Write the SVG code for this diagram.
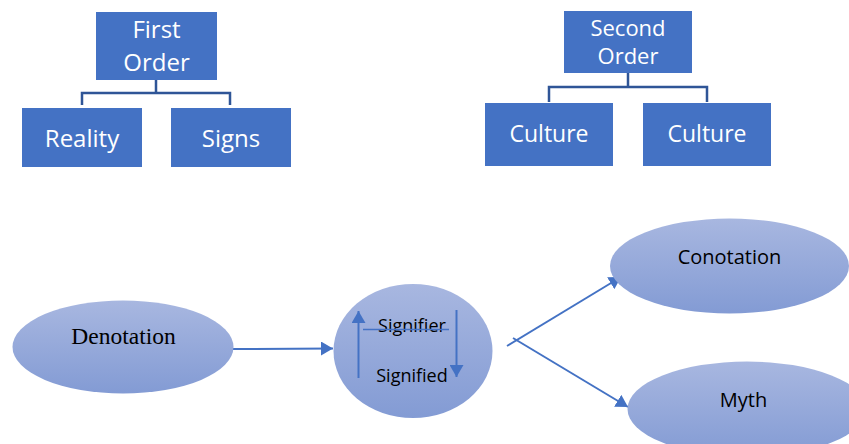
<svg xmlns="http://www.w3.org/2000/svg" width="849" height="444" viewBox="0 0 849 444">
<style>
.box{fill:#4472C4;}
.bt{font-family:"Open Sans","Liberation Sans",sans-serif;font-size:24px;fill:#ffffff;text-anchor:middle;}
.bs{font-size:22px;}
.tree{fill:none;stroke:#2F5597;stroke-width:2.5;}
.ell{fill:url(#eg);}
.et{font-family:"Open Sans","Liberation Sans",sans-serif;font-size:20px;fill:#000000;text-anchor:middle;}
.st{font-family:"Open Sans","Liberation Sans",sans-serif;font-size:18px;fill:#000000;text-anchor:middle;}
.serif{font-family:"Liberation Serif","Times New Roman",serif;font-size:23.5px;fill:#000000;text-anchor:middle;}
.arr{fill:none;stroke:#4472C4;stroke-width:2;marker-end:url(#ah);}
.ln{fill:none;stroke:#4472C4;stroke-width:1.5;}
</style>
<defs>
<linearGradient id="eg" x1="0" y1="0" x2="0" y2="1">
<stop offset="0" stop-color="#A8B7E0"/>
<stop offset="1" stop-color="#839BD4"/>
</linearGradient>
<marker id="ah" markerUnits="userSpaceOnUse" markerWidth="14" markerHeight="14" refX="12" refY="7" orient="auto">
<path d="M0,0 L12,7 L0,14 z" fill="#4472C4"/>
</marker>
</defs>
<rect width="849" height="444" fill="#ffffff"/>

<g id="connectors">
<path class="tree" d="M156,80 V93 M82,105 V93 H230 V105"/>
<path class="tree" d="M628,73 V87 M549,102 V87 H707 V102"/>
<line class="arr" x1="233" y1="349" x2="333" y2="348.5"/>
<line class="arr" x1="507" y1="346" x2="621" y2="277"/>
<line class="arr" x1="513" y1="338" x2="628" y2="407"/>
</g>

<g id="first-order">
<rect class="box" x="96" y="12" width="121" height="68"/>
<text class="bt" x="156.5" y="38">First</text>
<text class="bt" x="156.5" y="71">Order</text>
</g>
<g id="reality">
<rect class="box" x="22" y="108" width="120" height="59"/>
<text class="bt" x="82" y="147">Reality</text>
</g>
<g id="signs">
<rect class="box" x="171" y="108" width="120" height="59"/>
<text class="bt" x="231" y="147">Signs</text>
</g>

<g id="second-order">
<rect class="box" x="564" y="11" width="128" height="62"/>
<text class="bt bs" x="628" y="36">Second</text>
<text class="bt bs" x="628" y="64">Order</text>
</g>
<g id="culture1">
<rect class="box" x="485" y="103" width="128" height="63"/>
<text class="bt" x="549" y="142" style="font-size:23px">Culture</text>
</g>
<g id="culture2">
<rect class="box" x="643" y="103" width="128" height="63"/>
<text class="bt" x="707" y="142" style="font-size:23px">Culture</text>
</g>

<g id="denotation">
<ellipse class="ell" cx="123" cy="347" rx="110.5" ry="46.5"/>
<text class="serif" x="123.5" y="344">Denotation</text>
</g>

<g id="sign">
<ellipse class="ell" cx="413" cy="351" rx="79.5" ry="67"/>
<line class="arr" x1="358.5" y1="378" x2="358.5" y2="311"/>
<line class="arr" x1="456.5" y1="310" x2="456.5" y2="377"/>
<text class="st" x="412" y="332">Signifier</text>
<line class="ln" x1="363" y1="329.5" x2="449" y2="329.5"/>
<text class="st" x="412" y="381.5">Signified</text>
</g>

<g id="conotation">
<ellipse class="ell" cx="729.5" cy="266" rx="119.5" ry="47.5"/>
<text class="et" x="729.5" y="264">Conotation</text>
</g>

<g id="myth">
<ellipse class="ell" cx="747" cy="409" rx="119.5" ry="47.5"/>
<text class="et" x="743.5" y="407">Myth</text>
</g>
</svg>
